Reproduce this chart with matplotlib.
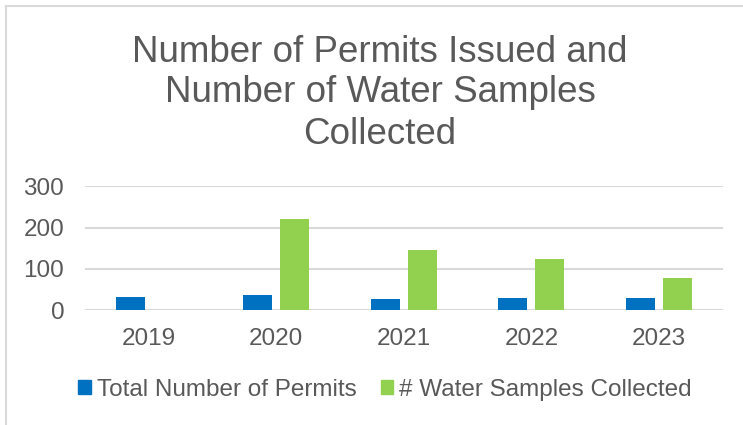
import matplotlib.pyplot as plt
from matplotlib.patches import Patch
from matplotlib.lines import Line2D
import numpy as np

plt.rcParams['font.family'] = ['Liberation Sans', 'DejaVu Sans']

years = ['2019', '2020', '2021', '2022', '2023']
permits = [33, 36, 27, 30, 29]
samples = [0, 222, 147, 123, 79]
yticks = [0, 100, 200, 300]
title_lines = ['Number of Permits Issued and', 'Number of Water Samples', 'Collected']

blue = '#0070C0'
green = '#92D050'
txt = '#595959'
grid = '#d9d9d9'

fig = plt.figure(figsize=(7.43, 4.25), dpi=100)
ax = fig.add_axes([85 / 743, 1 - 310.3 / 425, (722.7 - 85) / 743, 124 / 425])

x = np.arange(len(years))
w = 0.227
ax.bar(x - 0.145, permits, w, color=blue, zorder=3)
ax.bar(x + 0.145, samples, w, color=green, zorder=3)

ax.set_xlim(-0.5, len(years) - 0.5)
ax.set_ylim(0, 300)
ax.set_yticks(yticks)
ax.set_xticks(x)
ax.set_xticklabels(years)
ax.tick_params(length=0, labelsize=17.5, labelcolor=txt)
ax.tick_params(axis='y', pad=15)
ax.tick_params(axis='x', pad=13)
ax.grid(axis='y', color=grid, linewidth=1.5, zorder=0)
ax.set_axisbelow(True)
for s in ax.spines.values():
    s.set_visible(False)
ax.axhline(0, color=grid, linewidth=1.5, zorder=2)

# title, one line at a time
for line, base in zip(title_lines, [62, 102, 144]):
    fig.text(380 / 743, 1 - base / 425, line, ha='center', va='baseline',
             fontsize=26.5, color=txt)

handles = [Patch(color=blue), Patch(color=green)]
fig.legend(handles, ['Total Number of Permits', '# Water Samples Collected'],
           loc='center', bbox_to_anchor=(385 / 743, 1 - 390 / 425), ncol=2,
           frameon=False, fontsize=17.5, labelcolor=txt,
           handlelength=0.5, handleheight=0.5, handletextpad=0.25,
           columnspacing=1.0, borderpad=0)

# chart border (only left and top show in the picture)
fig.add_artist(Line2D([6 / 743, 6 / 743], [0, 1 - 6 / 425], color=grid, linewidth=1.5))
fig.add_artist(Line2D([6 / 743, 1], [1 - 6 / 425, 1 - 6 / 425], color=grid, linewidth=1.5))

fig.savefig('out.png', dpi=100)
